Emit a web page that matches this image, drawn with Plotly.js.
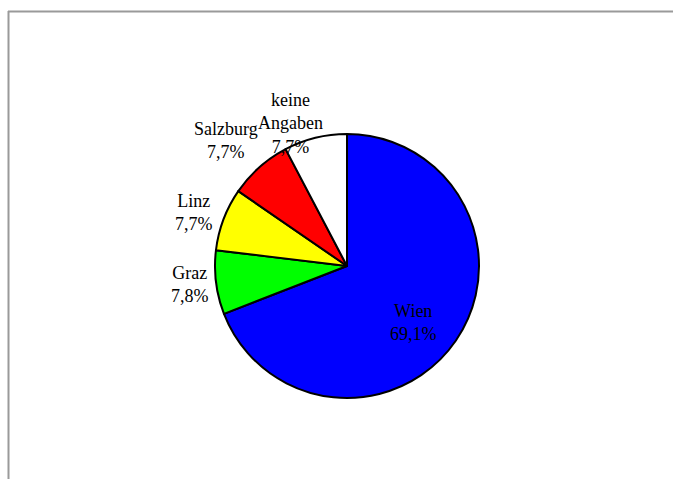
<!DOCTYPE html>
<html>
<head>
<meta charset="utf-8">
<script src="https://cdn.plot.ly/plotly-3.0.1.min.js"></script>
<style>html,body{margin:0;padding:0;background:#fff;}#chart{width:674px;height:479px;}</style>
</head>
<body>
<div id="chart"></div>
<script>
const categories = ["Wien", "Graz", "Linz", "Salzburg", "keine Angaben"];
const displayLabels = ["Wien", "Graz", "Linz", "Salzburg", "keine<br>Angaben"];
const values = [69.1, 7.8, 7.7, 7.7, 7.7];
const colors = ["#0000FF", "#00FF00", "#FFFF00", "#FF0000", "#FFFFFF"];
// label placement (paper coords, layout only)
const labelPos = [[413, 322], [190, 284], [194, 212.5], [226, 140.5], [290, 123.5]];

const W = 674, H = 479;
const fmt = v => v.toFixed(1).replace('.', ',') + '%';

const annotations = categories.map((c, i) => ({
  xref: 'paper', yref: 'paper',
  x: labelPos[i][0] / W, y: 1 - labelPos[i][1] / H,
  xanchor: 'center', yanchor: 'middle',
  text: displayLabels[i] + '<br>' + fmt(values[i]),
  showarrow: false,
  font: {family: 'Liberation Serif, Times New Roman, serif', size: 18, color: '#000'}
}));

const cx = 347, cy = 266, r = 132;
const trace = {
  type: 'pie',
  labels: categories,
  values: values,
  sort: false,
  direction: 'clockwise',
  rotation: 0,
  textinfo: 'none',
  hoverinfo: 'label+percent',
  marker: {colors: colors, line: {color: '#000', width: 2}},
  domain: {x: [(cx - r) / W, (cx + r) / W], y: [1 - (cy + r) / H, 1 - (cy - r) / H]},
  showlegend: false
};

const layout = {
  width: W, height: H,
  margin: {l: 0, r: 0, t: 0, b: 0},
  paper_bgcolor: '#fff',
  showlegend: false,
  annotations: annotations,
  shapes: [
    {type: 'line', xref: 'paper', yref: 'paper', x0: 8 / W, x1: 673 / W, y0: 1 - 11.5 / H, y1: 1 - 11.5 / H, line: {color: '#9a9a9a', width: 2}},
    {type: 'line', xref: 'paper', yref: 'paper', x0: 8.5 / W, x1: 8.5 / W, y0: 1 - 11 / H, y1: 0, line: {color: '#9a9a9a', width: 2}}
  ]
};

Plotly.newPlot('chart', [trace], layout, {staticPlot: true, displayModeBar: false});
</script>
</body>
</html>
